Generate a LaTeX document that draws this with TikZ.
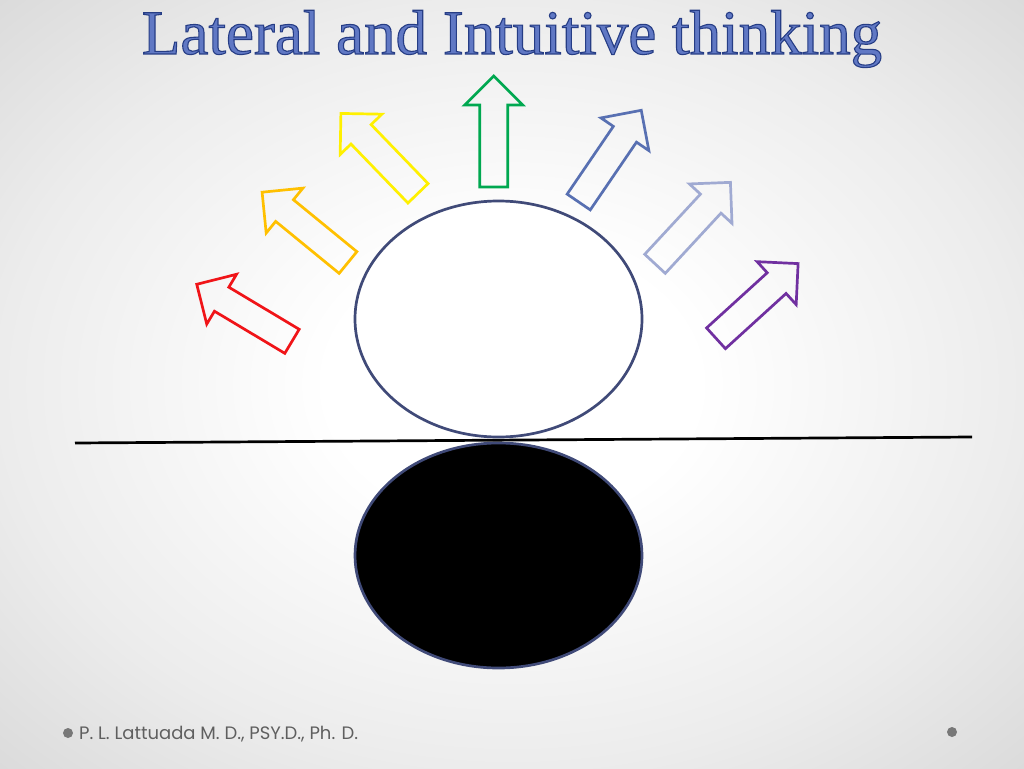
\documentclass[tikz,border=0pt]{standalone}
\usepackage{fontspec}
\usetikzlibrary{shapes.geometric}
\newfontfamily\titlefont{Liberation Serif}
\newfontfamily\footfont{Poppins}
\definecolor{titleblue}{RGB}{96,120,196}
\definecolor{ellline}{RGB}{64,74,120}
\definecolor{cred}{RGB}{240,20,24}
\definecolor{corange}{RGB}{255,192,0}
\definecolor{cyellow}{RGB}{255,240,0}
\definecolor{cgreen}{RGB}{0,168,80}
\definecolor{cblue}{RGB}{88,112,178}
\definecolor{clblue}{RGB}{160,170,210}
\definecolor{cpurple}{RGB}{112,48,160}
\definecolor{footgray}{RGB}{95,95,95}
\definecolor{bulgray}{RGB}{120,120,120}
\definecolor{bgA}{RGB}{255,255,255}
\definecolor{bgB}{RGB}{236,236,236}
\definecolor{bgC}{RGB}{218,218,218}
\pgfdeclareradialshading{slidebg}{\pgfpoint{0bp}{0bp}}{color(0bp)=(bgA); color(9bp)=(bgA); color(25bp)=(bgB); color(36bp)=(bgC); color(50bp)=(bgC)}
\tikzset{
  arrowline/.style={line width=2.7pt, line join=miter},
  ell/.style={ellipse, draw=ellline, line width=2.7pt, inner sep=0pt},
}
\newcommand{\blockarr}[4]{%
  \begin{scope}[shift={#3}, rotate=#4]
    \coordinate (#1) at (0,0);
    \draw[arrowline, draw=#2] (0,-14) -- (82,-14) -- (82,-29) -- (111,0) -- (82,29) -- (82,14) -- (0,14) -- cycle;
  \end{scope}}
\begin{document}
\begin{tikzpicture}[x=1pt,y=-1pt]
\useasboundingbox (0,0) rectangle (1024,768);
\shade[shading=slidebg] (0,0) rectangle (1024,768);
% title
\node[anchor=base, font=\titlefont\fontsize{63}{66}\selectfont, text=titleblue, inner sep=0pt] (title) at (512,54)
  {\special{pdf:literal direct 2 Tr 1.1 w 0.15 0.24 0.52 RG}Lateral and Intuitive thinking\special{pdf:literal direct 0 Tr}};
% arrows
\blockarr{ared}{cred}{(292,341.3)}{149.1}
\blockarr{aorange}{corange}{(348,262.5)}{140.7}
\blockarr{ayellow}{cyellow}{(418,193.3)}{134.0}
\blockarr{agreen}{cgreen}{(493.7,187)}{90}
\blockarr{ablue}{cblue}{(578.7,202)}{55.7}
\blockarr{alblue}{clblue}{(655,263.8)}{47.2}
\blockarr{apurple}{cpurple}{(716,338.3)}{42.3}
% ellipses
\node[ell, fill=white, minimum width=287pt, minimum height=236pt] (upper) at (498.5,319) {};
\node[ell, fill=black, minimum width=287pt, minimum height=225pt] (lower) at (498.5,555.5) {};
% horizon line
\coordinate (h1) at (75,443);
\coordinate (h2) at (972,437);
\draw[line width=2.7pt, black] (h1) -- (h2);
% footer
\node[circle, fill=bulgray, minimum size=10pt, inner sep=0pt] (bul1) at (68,733) {};
\node[anchor=base west, font=\footfont\fontsize{18}{21}\selectfont, text=footgray, inner sep=0pt] (foot) at (79,739) {P. L. Lattuada M. D., PSY.D., Ph. D.};
\node[circle, fill=bulgray, minimum size=10pt, inner sep=0pt] (bul2) at (952,732) {};
\end{tikzpicture}
\end{document}
